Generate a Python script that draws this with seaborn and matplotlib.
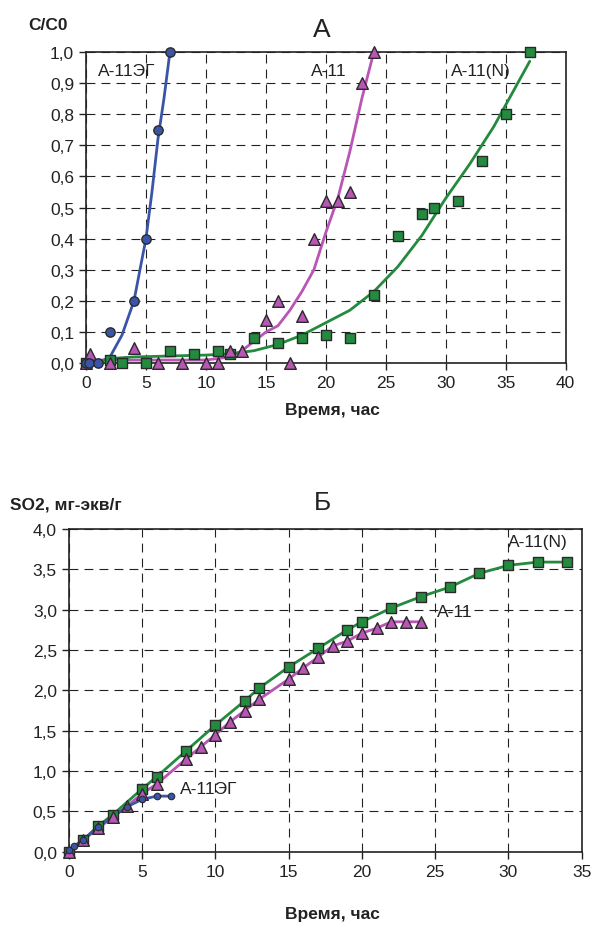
import pandas as pd
import matplotlib
matplotlib.use("Agg")
import matplotlib.pyplot as plt
from matplotlib.ticker import FuncFormatter, MultipleLocator
import seaborn as sns

# chart A: breakthrough curves C/C0
eg_x = [0, 0.25, 1, 2, 4, 5, 6, 7]
eg_y = [0, 0, 0, 0.1, 0.2, 0.4, 0.75, 1.0]
a11_x = [0, 0.3, 2, 4, 6, 8, 10, 11, 12, 13, 15, 16, 17, 18, 19, 20, 21, 22, 23, 24]
a11_y = [0, 0.03, 0, 0.05, 0, 0, 0, 0, 0.04, 0.04, 0.14, 0.2, 0, 0.15, 0.4, 0.52, 0.52, 0.55, 0.9, 1.0]
n_x = [0, 2, 3, 5, 7, 9, 11, 12, 14, 16, 18, 20, 22, 24, 26, 28, 29, 31, 33, 35, 37]
n_y = [0, 0.01, 0, 0, 0.04, 0.03, 0.04, 0.03, 0.08, 0.065, 0.08, 0.09, 0.08, 0.22, 0.41, 0.48, 0.5, 0.52, 0.65, 0.8, 1.0]

# trend lines of chart A
eg_fit_x = [0, 1, 2, 3, 4, 5, 5.5, 6, 6.5, 7]
eg_fit_y = [0.01, 0, 0.02, 0.09, 0.2, 0.4, 0.55, 0.72, 0.85, 1.0]
a11_fit_x = [0, 2, 4, 6, 8, 10, 12, 13, 14, 15, 16, 17, 18, 19, 20, 21, 22, 23, 24]
a11_fit_y = [0.01, 0.01, 0.01, 0.01, 0.01, 0.01, 0.02, 0.04, 0.07, 0.1, 0.12, 0.17, 0.23, 0.3, 0.42, 0.53, 0.68, 0.85, 1.0]
n_fit_x = [0, 1, 2, 4, 6, 8, 10, 12, 14, 16, 18, 20, 22, 24, 26, 28, 30, 32, 34, 36, 37]
n_fit_y = [0, 0.005, 0.015, 0.02, 0.022, 0.024, 0.026, 0.03, 0.04, 0.06, 0.09, 0.13, 0.17, 0.23, 0.31, 0.41, 0.53, 0.64, 0.76, 0.9, 0.97]

# chart B: sorption capacity SO2
b_eg_x = [0, 0.35, 1, 2, 4, 5, 6, 7]
b_eg_y = [0.02, 0.07, 0.15, 0.31, 0.56, 0.65, 0.69, 0.69]
b_a11_x = [0, 1, 2, 3, 4, 5, 6, 8, 9, 10, 11, 12, 13, 15, 16, 17, 18, 19, 20, 21, 22, 23, 24]
b_a11_y = [0, 0.15, 0.29, 0.43, 0.57, 0.72, 0.84, 1.15, 1.3, 1.45, 1.61, 1.75, 1.89, 2.14, 2.28, 2.41, 2.55, 2.61, 2.71, 2.77, 2.85, 2.85, 2.85]
b_n_x = [0, 1, 2, 3, 5, 6, 8, 10, 12, 13, 15, 17, 19, 20, 22, 24, 26, 28, 30, 32, 34]
b_n_y = [0, 0.15, 0.32, 0.46, 0.78, 0.93, 1.25, 1.57, 1.87, 2.03, 2.29, 2.52, 2.75, 2.85, 3.02, 3.16, 3.28, 3.45, 3.55, 3.59, 3.59]

blue = "#3a55a8"
pink = "#b955b5"
green = "#238a3e"
edge = "#2a2a2a"

sns.set_style("white")
plt.rcParams["font.family"] = ["Liberation Sans", "DejaVu Sans"]

fig = plt.figure(figsize=(5.93, 9.29), dpi=100)
ax1 = fig.add_axes([0.145, 0.608, 0.809, 0.335])
ax2 = fig.add_axes([0.116, 0.082, 0.865, 0.3475])

comma = FuncFormatter(lambda v, p: f"{v:.1f}".replace(".", ","))


def style(ax, xmax, ymax, ystep):
    ax.set_xlim(0, xmax)
    ax.set_ylim(0, ymax)
    ax.xaxis.set_major_locator(MultipleLocator(5))
    ax.yaxis.set_major_locator(MultipleLocator(ystep))
    ax.yaxis.set_major_formatter(comma)
    ax.grid(True, color="#222222", linestyle=(0, (8, 5.5)), linewidth=0.8)
    ax.set_axisbelow(True)
    for s in ax.spines.values():
        s.set_color("#222222")
        s.set_linewidth(1.2)
    ax.tick_params(axis="both", direction="out", length=5, width=1, colors="#222222",
                   labelsize=12.5, labelcolor="#222222", bottom=True, left=True)
    ax.set_xlabel("")
    ax.set_ylabel("")


# chart A
sns.lineplot(x=eg_fit_x, y=eg_fit_y, ax=ax1, color=blue, linewidth=2, sort=False, zorder=3)
sns.lineplot(x=a11_fit_x, y=a11_fit_y, ax=ax1, color=pink, linewidth=2, sort=False, zorder=3)
sns.lineplot(x=n_fit_x, y=n_fit_y, ax=ax1, color=green, linewidth=2, sort=False, zorder=3)
sns.scatterplot(x=n_x, y=n_y, ax=ax1, marker="s", s=50, color=green, edgecolor=edge, linewidth=1, zorder=4, clip_on=False)
sns.scatterplot(x=a11_x, y=a11_y, ax=ax1, marker="^", s=70, color=pink, edgecolor=edge, linewidth=1, zorder=4, clip_on=False)
sns.scatterplot(x=eg_x, y=eg_y, ax=ax1, marker="o", s=45, color=blue, edgecolor=edge, linewidth=1, zorder=5, clip_on=False)
style(ax1, 40, 1.0, 0.1)
ax1.text(1.0, 0.94, "А-11ЭГ", fontsize=12.5, color="#222222", va="center")
ax1.text(18.8, 0.94, "А-11", fontsize=12.5, color="#222222", va="center")
ax1.text(30.4, 0.94, "А-11(N)", fontsize=12.5, color="#222222", va="center")

# chart B
sns.lineplot(x=b_n_x, y=b_n_y, ax=ax2, color=green, linewidth=2, sort=False, zorder=3)
sns.lineplot(x=b_a11_x, y=b_a11_y, ax=ax2, color=pink, linewidth=2, sort=False, zorder=3)
sns.lineplot(x=b_eg_x, y=b_eg_y, ax=ax2, color=blue, linewidth=2, sort=False, zorder=3)
sns.scatterplot(x=b_n_x, y=b_n_y, ax=ax2, marker="s", s=55, color=green, edgecolor=edge, linewidth=1, zorder=4, clip_on=False)
sns.scatterplot(x=b_a11_x, y=b_a11_y, ax=ax2, marker="^", s=70, color=pink, edgecolor=edge, linewidth=1, zorder=4, clip_on=False)
sns.scatterplot(x=b_eg_x, y=b_eg_y, ax=ax2, marker="o", s=22, color=blue, edgecolor=edge, linewidth=0.8, zorder=5, clip_on=False)
style(ax2, 35, 4.0, 0.5)
ax2.text(30.0, 3.85, "А-11(N)", fontsize=12.5, color="#222222", va="center")
ax2.text(25.1, 2.98, "А-11", fontsize=12.5, color="#222222", va="center")
ax2.text(7.6, 0.78, "А-11ЭГ", fontsize=12.5, color="#222222", va="center")

# titles and axis captions
fig.text(322 / 593, 1 - 30 / 929, "А", fontsize=19, color="#222222", ha="center", va="center")
fig.text(28 / 593, 1 - 26 / 929, "С/С0", fontsize=12.5, fontweight="bold", color="#222222", va="center")
fig.text(332 / 593, 1 - 410 / 929, "Время, час", fontsize=12.5, fontweight="bold", color="#222222", ha="center", va="center")
fig.text(322 / 593, 1 - 503 / 929, "Б", fontsize=19, color="#222222", ha="center", va="center")
fig.text(10 / 593, 1 - 505 / 929, "SO2, мг-экв/г", fontsize=12.5, fontweight="bold", color="#222222", va="center")
fig.text(332 / 593, 1 - 915 / 929, "Время, час", fontsize=12.5, fontweight="bold", color="#222222", ha="center", va="center")

fig.savefig("out.png", dpi=100)
